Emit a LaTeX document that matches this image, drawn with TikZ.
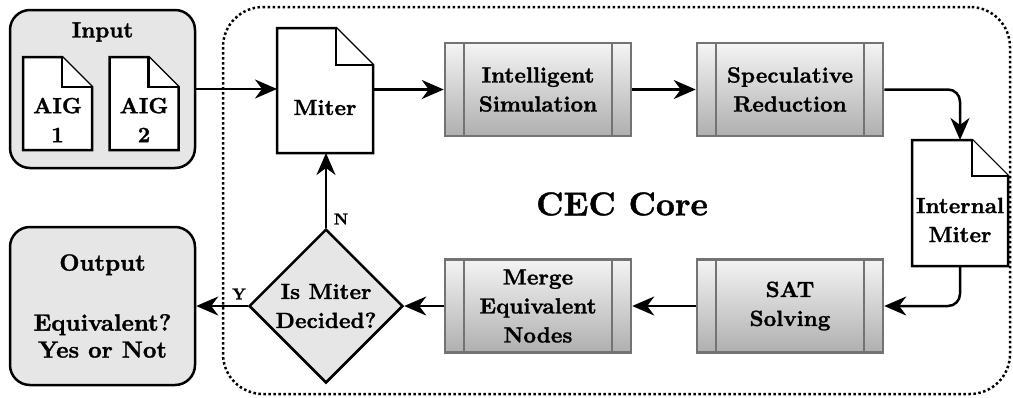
\documentclass[tikz,border=0pt]{standalone}
\usepackage{fontspec}
\setmainfont{lmroman10}[Extension=.otf, UprightFont=*-regular, BoldFont=*-bold,
  BoldFeatures={FakeBold=1.2}]
\usetikzlibrary{shapes.geometric,arrows.meta,calc}

\definecolor{panelgray}{HTML}{E6E6E6}
\definecolor{boxedge}{HTML}{737373}
\definecolor{shadetop}{HTML}{F4F4F4}
\definecolor{shadebottom}{HTML}{AFAFAF}

% outline of a document symbol with a folded top-right corner
\newcommand{\docoutline}[2]{%
  \draw[docline] (#1.north west) -- ([xshift=-#2]#1.north east)
    -- ([yshift=-#2]#1.north east) -- (#1.south east) -- (#1.south west) -- cycle;
  \draw[docline] ([xshift=-#2]#1.north east) |- ([yshift=-#2]#1.north east);}

\tikzset{
  txt/.style={font=\fontsize{22}{29}\selectfont\bfseries, align=center, inner sep=0pt},
  tag/.style={font=\fontsize{16}{18}\selectfont\bfseries, inner sep=0pt},
  panel/.style={draw, line width=2.5pt, fill=panelgray, rounded corners=20pt,
    minimum width=185pt, minimum height=158pt},
  docbody/.style={inner sep=0pt, outer sep=0pt},
  docline/.style={line width=2.5pt, line join=miter, fill=white},
  procbox/.style={txt, draw=boxedge, line width=2.5pt, top color=shadetop,
    bottom color=shadebottom, minimum width=186pt, minimum height=93pt,
    path picture={\draw[boxedge, line width=2.5pt]
      ([xshift=19pt]path picture bounding box.north west) --
      ([xshift=19pt]path picture bounding box.south west)
      ([xshift=-19pt]path picture bounding box.north east) --
      ([xshift=-19pt]path picture bounding box.south east);}},
  decision/.style={txt, diamond, aspect=1, draw, line width=2.5pt, fill=panelgray,
    minimum width=154pt, minimum height=154pt},
  coreframe/.style={draw, line width=2.5pt, dash pattern=on 2.5pt off 2.5pt,
    rounded corners=40pt, minimum width=787pt, minimum height=387pt},
  conn/.style={line width=2.5pt, -{Stealth[length=22pt, width=19pt, inset=7pt]}},
}

\begin{document}
\begin{tikzpicture}[x=1pt, y=-1pt]
  \useasboundingbox (0,0) rectangle (1013,397);

  % dotted frame of the core loop
  \node[coreframe] (core) at (616.5,200.5) {};
  \node[font=\fontsize{33}{40}\selectfont\bfseries, inner sep=0pt] (coretitle) at (622,204) {CEC Core};

  % input panel with the two AIG files
  \node[panel] (inp) at (102.5,89) {};
  \node[txt] (inputtitle) at (102.5,32) {Input};
  \node[docbody, minimum width=69pt, minimum height=93pt] (aigone) at (57.5,103.5) {};
  \node[docbody, minimum width=69pt, minimum height=93pt] (aigtwo) at (144,103.5) {};
  \docoutline{aigone}{30pt}
  \docoutline{aigtwo}{30pt}
  \node[txt] (aigonetext) at (57.5,120) {AIG\\1};
  \node[txt] (aigtwotext) at (144,120) {AIG\\2};

  % miter files
  \node[docbody, minimum width=96pt, minimum height=125pt] (miter) at (325,90.5) {};
  \docoutline{miter}{37pt}
  \node[txt] (mitertext) at (325,107.5) {Miter};
  \node[docbody, minimum width=96pt, minimum height=126pt] (imiter) at (960,203) {};
  \docoutline{imiter}{36pt}
  \node[txt] (imitertext) at (960,220) {Internal\\Miter};

  % processing steps
  \node[procbox] (sim) at (538,89.5) {Intelligent\\Simulation};
  \node[procbox] (spec) at (790,89.5) {Speculative\\Reduction};
  \node[procbox] (sat) at (790,306) {SAT\\Solving};
  \node[procbox] (merge) at (538,306) {Merge\\Equivalent\\Nodes};

  % decision and output
  \node[decision] (dec) at (326,306) {Is Miter\\Decided?};
  \node[panel, txt, font=\fontsize{23.5}{27}\selectfont\bfseries] (out) at (102.5,306)
    {Output\\[33pt]Equivalent?\\Yes or Not};

  % connectors
  \draw[conn] (inp.east) -- (inp.east -| miter.west);
  \draw[conn] (miter.east |- sim.west) -- (sim.west);
  \draw[conn] (sim) -- (spec);
  \draw[conn, rounded corners=12pt] (spec.east) -| (imiter.north);
  \draw[conn, rounded corners=12pt] (imiter.south) |- (sat.east);
  \draw[conn] (sat) -- (merge);
  \draw[conn] (merge.west) -- (dec.east);
  \draw[conn] (dec.north) -- (dec.north |- miter.south);
  \draw[conn] (dec.west) -- (dec.west -| out.east);
  \node[tag] (nolabel) at (341,219) {N};
  \node[tag] (yeslabel) at (239,294) {Y};
\end{tikzpicture}
\end{document}
